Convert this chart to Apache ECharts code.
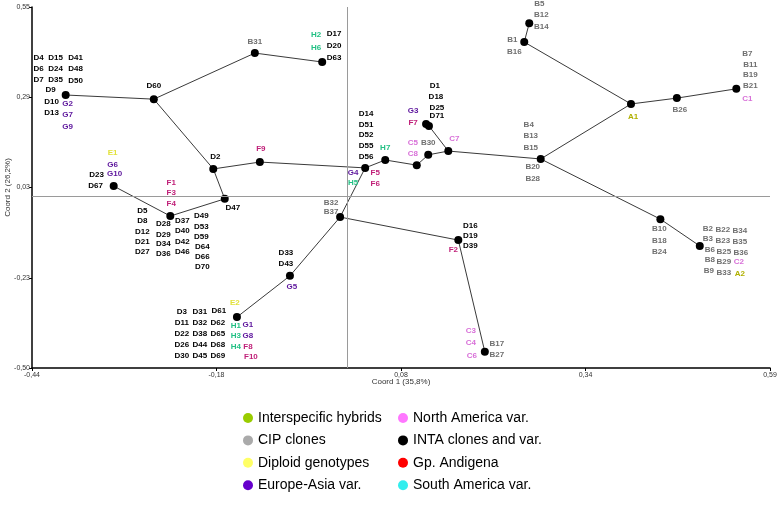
<!DOCTYPE html>
<html><head><meta charset="utf-8">
<script src="https://cdn.jsdelivr.net/npm/echarts@6/dist/echarts.min.js"></script>
<style>html,body{margin:0;padding:0;background:#fff}#c{width:778px;height:509px}</style>
</head><body><div id="c"></div>
<script>
// ---- axes ----
const X_MIN = -0.44, X_MAX = 0.59, Y_MIN = -0.50, Y_MAX = 0.55;
const xTickLabels = ['-0,44', '-0,18', '0,08', '0,34', '0,59'];
const yTickLabels = ['-0,50', '-0,23', '0,03', '0,29', '0,55'];
const xTitle = 'Coord 1 (35,8%)';
const yTitle = 'Coord 2 (26,2%)';

// ---- nodes of the minimum spanning tree ----
const nodeNames = ['G2','D60','B31','D63','D2','F9','D47','D28','D67','G4','H7','C5','B30','C7','G3','D1','B20','A1','B1','B5','B26','B21','B10','B3','B37','F2','B17','G5','E2'];
const nodeX = [-0.393,-0.270,-0.129,-0.035,-0.187,-0.122,-0.171,-0.247,-0.326,0.025,0.053,0.097,0.113,0.141,0.110,0.114,0.270,0.396,0.247,0.254,0.460,0.543,0.437,0.492,-0.010,0.155,0.192,-0.080,-0.154];
const nodeY = [0.294,0.282,0.416,0.390,0.079,0.099,-0.008,-0.058,0.029,0.082,0.105,0.090,0.120,0.131,0.210,0.204,0.108,0.268,0.448,0.503,0.285,0.312,-0.067,-0.145,-0.061,-0.128,-0.453,-0.232,-0.352];

// ---- tree edges ----
const edges = [['G2','D60'],['D60','B31'],['B31','D63'],['D60','D2'],['D2','F9'],['D2','D47'],['D47','D28'],['D28','D67'],
  ['F9','G4'],['G4','H7'],['H7','C5'],['C5','B30'],['B30','C7'],['C7','D1'],['D1','G3'],['C7','B20'],['B20','A1'],
  ['A1','B1'],['B1','B5'],['A1','B26'],['B26','B21'],['B20','B10'],['B10','B3'],['G4','B37'],['B37','F2'],['F2','B17'],
  ['B37','G5'],['G5','E2']];

// ---- genotype labels: [text, node] ----
const labelTexts = [
 ['D4','G2'],['D15','G2'],['D41','G2'],['D6','G2'],['D24','G2'],['D48','G2'],['D7','G2'],['D35','G2'],['D50','G2'],
 ['D9','G2'],['D10','G2'],['G2','G2'],['D13','G2'],['G7','G2'],['G9','G2'],
 ['D60','D60'],['B31','B31'],
 ['H2','D63'],['D17','D63'],['H6','D63'],['D20','D63'],['D63','D63'],
 ['D2','D2'],['F9','F9'],
 ['E1','D67'],['G6','D67'],['D23','D67'],['G10','D67'],['D67','D67'],
 ['F1','D28'],['F3','D28'],['F4','D28'],
 ['D5','D28'],['D8','D28'],['D12','D28'],['D21','D28'],['D27','D28'],
 ['D28','D28'],['D29','D28'],['D34','D28'],['D36','D28'],
 ['D37','D28'],['D40','D28'],['D42','D28'],['D46','D28'],
 ['D49','D28'],['D53','D28'],['D59','D28'],['D64','D28'],['D66','D28'],['D70','D28'],
 ['D47','D47'],
 ['E2','E2'],
 ['D3','E2'],['D31','E2'],['D61','E2'],['D11','E2'],['D32','E2'],['D62','E2'],['D22','E2'],['D38','E2'],['D65','E2'],
 ['D26','E2'],['D44','E2'],['D68','E2'],['D30','E2'],['D45','E2'],['D69','E2'],
 ['H1','E2'],['G1','E2'],['H3','E2'],['G8','E2'],['H4','E2'],['F8','E2'],['F10','E2'],
 ['D33','G5'],['D43','G5'],['G5','G5'],
 ['B32','B37'],['B37','B37'],
 ['D16','F2'],['D19','F2'],['D39','F2'],['F2','F2'],
 ['C3','B17'],['C4','B17'],['C6','B17'],['B17','B17'],['B27','B17'],
 ['G4','G4'],['H5','G4'],['F5','G4'],['F6','G4'],
 ['D14','G4'],['D51','G4'],['D52','G4'],['D55','G4'],['D56','G4'],
 ['H7','H7'],['C5','C5'],['C8','C5'],['B30','B30'],['C7','C7'],
 ['G3','G3'],['F7','G3'],
 ['D1','D1'],['D18','D1'],['D25','D1'],['D71','D1'],
 ['B5','B5'],['B12','B5'],['B14','B5'],
 ['B1','B1'],['B16','B1'],
 ['A1','A1'],['B26','B26'],
 ['B7','B21'],['B11','B21'],['B19','B21'],['B21','B21'],['C1','B21'],
 ['B4','B20'],['B13','B20'],['B15','B20'],['B20','B20'],['B28','B20'],
 ['B10','B10'],['B18','B10'],['B24','B10'],
 ['B2','B3'],['B22','B3'],['B34','B3'],['B3','B3'],['B23','B3'],['B35','B3'],
 ['B6','B3'],['B25','B3'],['B36','B3'],['B8','B3'],['B29','B3'],['C2','B3'],
 ['B9','B3'],['B33','B3'],['A2','B3']
];

// ---- legend ----
const legendCol1 = ['Interspecific hybrids','CIP clones','Diploid genotypes','Europe-Asia var.'];
const legendCol2 = ['North America var.','INTA clones and var.','Gp. Andigena','South America var.'];

// ================= layout / style (not data) =================
// pixel offsets of each label relative to its node, same order as labelTexts
const labelOffsets = [
 [-27,-37],[-10,-37],[10,-37],[-27,-26],[-10,-26],[10,-26],[-27,-15],[-10,-15],[10,-14],
 [-15,-5],[-14,7],[2,9],[-14,18],[2,20],[2,32],
 [0,-13],[0,-11],
 [-6,-27],[12,-28],[-6,-14],[12,-16],[12,-4],
 [2,-12],[1,-13],
 [-1,-33],[-1,-21],[-17,-11],[1,-12],[-18,0],
 [1,-33],[1,-23],[1,-12],
 [-28,-5],[-28,5],[-28,16],[-28,26],[-28,36],
 [-7,8],[-7,19],[-7,28],[-7,38],
 [12,5],[12,15],[12,26],[12,36],
 [31,0],[31,11],[31,21],[32,31],[32,41],[32,51],
 [8,9],
 [-2,-14],
 [-55,-5],[-37,-5],[-18,-6],[-55,6],[-37,6],[-19,6],[-55,17],[-37,17],[-19,17],
 [-55,28],[-37,28],[-19,28],[-55,39],[-37,39],[-19,39],
 [-1,9],[11,8],[-1,19],[11,19],[-1,30],[11,30],[14,40],
 [-4,-23],[-4,-12],[2,11],
 [-9,-14],[-9,-5],
 [12,-14],[12,-4],[12,6],[-5,10],
 [-14,-21],[-14,-9],[-13,4],[12,-8],[12,3],
 [-12,5],[-12,15],[10,5],[10,16],
 [1,-54],[1,-43],[1,-33],[1,-22],[1,-11],
 [0,-12],[-4,-22],[-4,-11],[0,-12],[6,-12],
 [-13,-13],[-13,-1],
 [6,-40],[7,-29],[8,-18],[8,-10],
 [10,-19],[12,-8],[12,4],
 [-12,-2],[-10,10],
 [2,13],[3,12],
 [11,-35],[14,-24],[14,-14],[14,-3],[11,10],
 [-12,-34],[-10,-23],[-10,-11],[-8,8],[-8,20],
 [-1,10],[-1,22],[-1,33],
 [8,-17],[23,-16],[40,-15],[8,-7],[23,-5],[40,-4],
 [10,4],[24,6],[41,7],[10,14],[24,16],[39,16],
 [9,25],[24,27],[40,28]
];
const labelColors = {A:'#b0b000',B:'#6f6f6f',C:'#d870d8',D:'#000000',E:'#e2e23a',F:'#c01f78',G:'#5c149c',H:'#22c084'};
const legendColors = {
 'Interspecific hybrids':'#99cc00','CIP clones':'#aaaaaa','Diploid genotypes':'#ffff66','Europe-Asia var.':'#6600cc',
 'North America var.':'#ff77ff','INTA clones and var.':'#000000','Gp. Andigena':'#ff0000','South America var.':'#33eeee'
};

const idx = {}; nodeNames.forEach((n,i)=>idx[n]=i);
const pt = n => [nodeX[idx[n]], nodeY[idx[n]]];
const xStep = (X_MAX - X_MIN) / (xTickLabels.length - 1);
const yStep = (Y_MAX - Y_MIN) / (yTickLabels.length - 1);
const xTicks = xTickLabels.map((_,i)=>i === xTickLabels.length - 1 ? X_MAX : +(X_MIN + i*xStep).toFixed(6));
const yTicks = yTickLabels.map((_,i)=>i === yTickLabels.length - 1 ? Y_MAX : +(Y_MIN + i*yStep).toFixed(6));
const FONT = '"Liberation Sans", Arial, sans-serif';

const legendSeries = legendCol1.concat(legendCol2).map(name => ({
  name, type:'scatter', data:[], itemStyle:{color: legendColors[name], opacity:1}
}));

const legendBase = {orient:'vertical', top:411, padding:0, icon:'circle', itemWidth:10, itemHeight:10, itemGap:8.4,
  selectedMode:false, textStyle:{fontSize:14, color:'#000', fontFamily:FONT, lineHeight:14}};

const chart = echarts.init(document.getElementById('c'), null, {renderer:'canvas'});
chart.setOption({
  animation:false,
  backgroundColor:'#fff',
  textStyle:{fontFamily:FONT},
  grid:{left:32, right:8, top:7, bottom:141, outerBoundsMode:'none', containLabel:false},
  xAxis:{
    type:'value', min:X_MIN, max:X_MAX,
    name:xTitle, nameLocation:'middle', nameGap:10, nameMoveOverlap:false,
    nameTextStyle:{fontSize:8, color:'#333', fontFamily:FONT},
    axisLine:{onZero:false, lineStyle:{color:'#000', width:1.5}},
    axisTick:{show:true, length:3, customValues:xTicks, lineStyle:{color:'#000'}},
    axisLabel:{customValues:xTicks, fontSize:7, color:'#333', margin:4, showMaxLabel:true, showMinLabel:true,
      formatter:v=>xTickLabels[Math.round((v-X_MIN)/xStep)]},
    splitLine:{show:false}
  },
  yAxis:{
    type:'value', min:Y_MIN, max:Y_MAX,
    name:yTitle, nameLocation:'middle', nameGap:20, nameRotate:90, nameMoveOverlap:false,
    nameTextStyle:{fontSize:8, color:'#333', fontFamily:FONT},
    axisLine:{onZero:false, lineStyle:{color:'#000', width:1.5}},
    axisTick:{show:true, length:3, customValues:yTicks, lineStyle:{color:'#000'}},
    axisLabel:{customValues:yTicks, fontSize:7, color:'#333', margin:2, showMaxLabel:true, showMinLabel:true,
      formatter:v=>yTickLabels[Math.round((v-Y_MIN)/yStep)]},
    splitLine:{show:false}
  },
  legend:[
    Object.assign({data:legendCol1, left:243}, legendBase),
    Object.assign({data:legendCol2, left:398}, legendBase)
  ],
  series:[
    {
      type:'lines', coordinateSystem:'cartesian2d', silent:true, z:2,
      lineStyle:{color:'#3a3a3a', width:1, opacity:1},
      data: edges.map(([a,b])=>({coords:[pt(a), pt(b)]})),
      markLine:{silent:true, symbol:'none', label:{show:false},
        lineStyle:{color:'#9a9a9a', width:1, type:'solid'},
        data:[{xAxis:0},{yAxis:0}]}
    },
    {
      type:'scatter', silent:true, z:3, symbol:'circle', symbolSize:8,
      itemStyle:{color:'#000', opacity:1},
      data: nodeNames.map(n=>pt(n))
    },
    {
      type:'scatter', silent:true, z:4, symbol:'circle', symbolSize:1,
      itemStyle:{color:'rgba(0,0,0,0)', opacity:1},
      label:{show:true, position:'inside', fontSize:8, fontWeight:'bold', fontFamily:FONT,
        opacity:1, textBorderWidth:0},
      data: labelTexts.map(([t,n],i)=>({
        value: pt(n),
        label:{formatter:t, offset:labelOffsets[i], color:labelColors[t[0]]}
      }))
    }
  ].concat(legendSeries)
});
</script>
</body></html>
